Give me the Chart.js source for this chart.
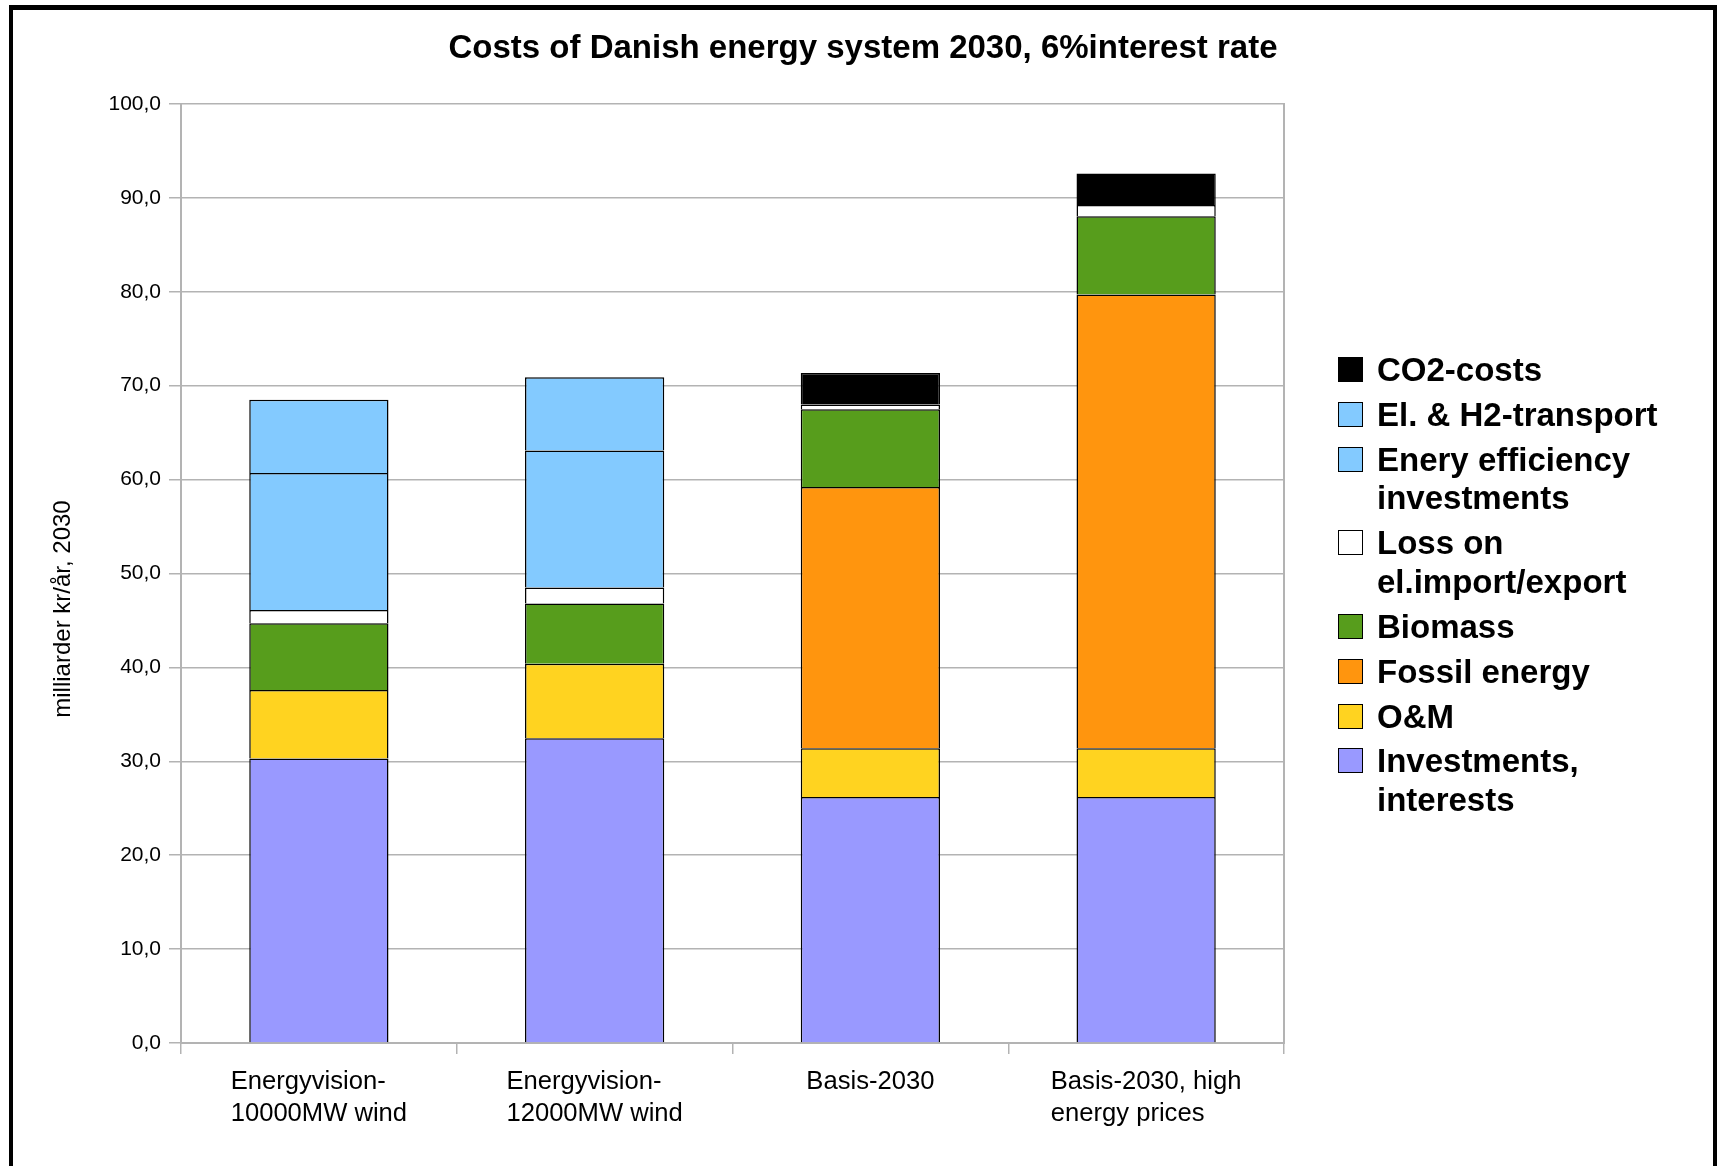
<!DOCTYPE html>
<html>
<head>
<meta charset="utf-8">
<script src="https://cdn.jsdelivr.net/npm/chart.js@4/dist/chart.umd.min.js"></script>
<style>
  html, body { margin: 0; padding: 0; background: #fff; }
  #wrap { position: absolute; left: 0; top: 0; width: 1717px; height: 1166px; overflow: hidden; }
  #frame { position: absolute; left: 9px; top: 5px; right: 0; bottom: -20px; border: solid #000; border-width: 5px 4px 0 4.5px; }
  #box { position: absolute; left: 0; top: 0; width: 1717px; height: 1166px; }
  #legend { position: absolute; left: 1338px; top: 351px; font: bold 33px "Liberation Sans", Arial, sans-serif; line-height: 38.3px; color: #000; }
  #legend .item { display: flex; margin-bottom: 6.7px; }
  #legend .sw { width: 23px; height: 23px; border: 1.5px solid #000; margin-top: 6px; margin-right: 14px; flex: none; }
  #legend .tx { width: 320px; }
</style>
</head>
<body>
<div id="wrap">
  <div id="frame"></div>
  <div id="box"><canvas id="chart"></canvas></div>
  <div id="legend"></div>
</div>
<script>
// bar groups, x labels split into lines
const categories = [
  ["Energyvision-", "10000MW wind"],
  ["Energyvision-", "12000MW wind"],
  ["Basis-2030"],
  ["Basis-2030, high", "energy prices"]
];

// milliarder kr/år, stacked bottom to top
const investments = [30.3, 32.45, 26.2, 26.2];
const operation = [7.3, 7.95, 5.2, 5.2];
const fossil = [0, 0, 27.8, 48.3];
const biomass = [7.1, 6.4, 8.3, 8.35];
const lossImportExport = [1.4, 1.7, 0.5, 1.2];
const efficiency = [14.6, 14.6, 0, 0];
const transport = [7.8, 7.8, 0, 0];
const co2 = [0, 0, 3.35, 3.35];

const yTicks = [0, 10, 20, 30, 40, 50, 60, 70, 80, 90, 100];

const series = [
  { label: "Investments, interests", data: investments, color: "#9999ff" },
  { label: "O&M", data: operation, color: "#ffd320" },
  { label: "Fossil energy", data: fossil, color: "#ff950e" },
  { label: "Biomass", data: biomass, color: "#579d1c" },
  { label: "Loss on el.import/export", data: lossImportExport, color: "#ffffff" },
  { label: "Enery efficiency investments", data: efficiency, color: "#83caff" },
  { label: "El. & H2-transport", data: transport, color: "#83caff" },
  { label: "CO2-costs", data: co2, color: "#000000" }
];

const FONT = '"Liberation Sans", Arial, sans-serif';
const GRID = "#b3b3b3";

// legend (reverse of stacking order)
const legend = document.getElementById("legend");
series.slice().reverse().forEach((s) => {
  const item = document.createElement("div");
  item.className = "item";
  item.innerHTML = `<div class="sw" style="background:${s.color}"></div><div class="tx"></div>`;
  item.querySelector(".tx").textContent = s.label;
  legend.appendChild(item);
});

const customText = {
  id: "customText",
  afterDraw(chart) {
    const ctx = chart.ctx;
    const xs = chart.scales.x;
    ctx.save();
    ctx.fillStyle = "#000";
    // x labels: block centred under bar, lines left aligned
    ctx.font = `25.6px ${FONT}`;
    ctx.textAlign = "left";
    ctx.textBaseline = "alphabetic";
    categories.forEach((lines, i) => {
      const cx = xs.getPixelForTick(i);
      const w = Math.max(...lines.map((l) => ctx.measureText(l).width));
      lines.forEach((l, j) => ctx.fillText(l, cx - w / 2, xs.top + 46 + j * 31.5));
    });
    // y axis title
    ctx.font = `24px ${FONT}`;
    ctx.textAlign = "center";
    ctx.translate(69.5, 609);
    ctx.rotate(-Math.PI / 2);
    ctx.fillText("milliarder kr/år, 2030", 0, 0);
    ctx.restore();
  }
};

new Chart(document.getElementById("chart"), {
  type: "bar",
  data: {
    labels: categories,
    datasets: series.map((s) => ({
      label: s.label,
      data: s.data,
      backgroundColor: s.color,
      borderColor: "#000",
      borderWidth: 1.5,
      barPercentage: 0.505,
      categoryPercentage: 1
    }))
  },
  options: {
    responsive: true,
    maintainAspectRatio: false,
    animation: false,
    layout: { padding: { left: 9, top: 0, right: 0, bottom: 0 } },
    plugins: {
      legend: { display: false },
      tooltip: { enabled: false },
      title: {
        display: true,
        text: "Costs of Danish energy system 2030, 6%interest rate",
        color: "#000",
        font: { family: FONT, size: 33, weight: "bold", lineHeight: 1.2 },
        padding: { top: 29, bottom: 35.4 }
      }
    },
    scales: {
      x: {
        stacked: true,
        grid: { offset: true, drawOnChartArea: false, color: GRID, tickLength: 11, lineWidth: 1.5 },
        border: { color: GRID, width: 2 },
        ticks: { color: "transparent", font: { family: FONT, size: 25.6 } },
        afterFit(scale) { scale.height = 123; }
      },
      y: {
        stacked: true,
        min: 0,
        max: 100,
        afterBuildTicks(scale) { scale.ticks = yTicks.map((v) => ({ value: v })); },
        ticks: {
          color: "#000",
          padding: 8,
          font: { family: FONT, size: 21 },
          callback: (v) => v.toFixed(1).replace(".", ",")
        },
        grid: { color: GRID, tickLength: 12, lineWidth: 1.5 },
        border: { color: GRID, width: 2 },
        afterFit(scale) { scale.width = 172; }
      },
      y2: {
        position: "right",
        min: 0,
        max: 100,
        ticks: { display: false },
        grid: { display: false, drawTicks: false },
        border: { display: true, color: GRID, width: 2 },
        afterFit(scale) { scale.width = 433; }
      }
    }
  },
  plugins: [customText]
});
</script>
</body>
</html>
